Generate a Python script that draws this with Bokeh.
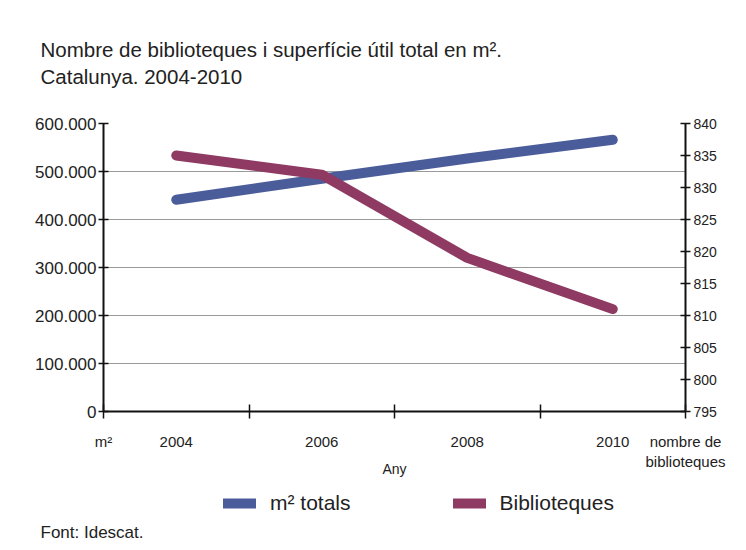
from bokeh.plotting import figure
from bokeh.layouts import column
from bokeh.models import Range1d, LinearAxis, FixedTicker, Legend, LegendItem, Title
from bokeh.embed import file_html
from bokeh.resources import INLINE

years = ["2004", "2006", "2008", "2010"]
m2_totals = [441000, 485000, 527000, 566000]
biblioteques = [835, 832, 819, 811]
left_ticks = [0, 100000, 200000, 300000, 400000, 500000, 600000]
left_tick_labels = ["0", "100.000", "200.000", "300.000", "400.000", "500.000", "600.000"]
right_ticks = [795, 800, 805, 810, 815, 820, 825, 830, 835, 840]

title_1 = "Nombre de biblioteques i superfície útil total en m²."
title_2 = "Catalunya. 2004-2010"
left_unit = "m²"
right_unit = "nombre de\nbiblioteques"
x_title = "Any"
series_names = ["m² totals", "Biblioteques"]
source_text = "Font: Idescat."

BLUE = "#4b5c9b"
MAROON = "#8e3a62"
TXT = "#222222"
FONT = "Liberation Sans"

xs = [i + 0.5 for i in range(len(years))]
bounds = list(range(len(years) + 1))

# ---------------- main chart ----------------
p = figure(frame_width=582, frame_height=288, output_backend="svg", toolbar_location=None,
           x_range=Range1d(0, len(years)), y_range=Range1d(0, 600000),
           min_border_left=103, min_border_right=53, min_border_top=123, min_border_bottom=66,
           x_axis_location=None, y_axis_location=None)
p.outline_line_color = None
p.extra_y_ranges = {"right": Range1d(795, 840)}

p.xgrid.visible = False
p.ygrid.ticker = FixedTicker(ticks=left_ticks)
p.ygrid.grid_line_color = "#9a9a9a"
p.ygrid.grid_line_width = 1

ly = LinearAxis(ticker=FixedTicker(ticks=left_ticks),
                major_label_overrides={t: l for t, l in zip(left_ticks, left_tick_labels)})
x_label_map = {x: y for x, y in zip(xs, years)}
x_label_map[bounds[0]] = left_unit
x_label_map[bounds[-1]] = right_unit
bx = LinearAxis(ticker=FixedTicker(ticks=[bounds[0]] + xs + [bounds[-1]], minor_ticks=bounds),
                major_label_overrides=x_label_map, axis_label=x_title)
ry = LinearAxis(y_range_name="right", ticker=FixedTicker(ticks=right_ticks))

for ax in (ly, bx, ry):
    ax.axis_line_color = "#111111"
    ax.axis_line_width = 2
    ax.major_tick_line_color = "#111111"
    ax.major_tick_line_width = 1.5
    ax.major_label_text_font = FONT
    ax.major_label_text_color = TXT
    ax.major_label_text_font_size = "16px"
    ax.minor_tick_line_color = None

ly.major_tick_in = 5
ly.major_tick_out = 5
ly.major_label_standoff = 2
ly.major_label_text_font_size = "17px"
ry.major_tick_in = 5
ry.major_tick_out = 5
ry.major_label_standoff = 3
ry.major_label_text_font_size = "14px"

bx.major_tick_in = 0
bx.major_tick_out = 0
bx.minor_tick_line_color = "#111111"
bx.minor_tick_line_width = 1.5
bx.minor_tick_in = 7
bx.minor_tick_out = 7
bx.major_label_standoff = 14
bx.major_label_text_font_size = "15px"
bx.axis_label_text_font = FONT
bx.axis_label_text_font_style = "normal"
bx.axis_label_text_font_size = "14px"
bx.axis_label_text_color = TXT
bx.axis_label_standoff = -12

p.add_layout(ly, "left")
p.add_layout(ry, "right")
p.add_layout(bx, "below")

p.line(xs, m2_totals, line_color=BLUE, line_width=10, line_cap="round", line_join="round")
p.line(xs, biblioteques, y_range_name="right", line_color=MAROON, line_width=10,
       line_cap="round", line_join="round")

ttl = Title(text=title_1 + "\n" + title_2, align="left", offset=-63, text_font=FONT,
            text_font_size="20.5px", text_font_style="normal", text_color=TXT,
            text_line_height=1.2, standoff=70)
p.add_layout(ttl, "above")

# ---------------- legend + source strip (frame aligned under the chart) ----------------
q = figure(width=738, height=62, output_backend="svg", toolbar_location=None,
           x_range=Range1d(0, 1), y_range=Range1d(0, 1),
           min_border_left=103, min_border_right=53, min_border_top=0, min_border_bottom=0,
           x_axis_location=None, y_axis_location=None)
q.outline_line_color = None
q.xgrid.visible = False
q.ygrid.visible = False

q1 = q.line(xs, m2_totals, line_color=BLUE, line_width=10, line_cap="round", visible=False)
q2 = q.line(xs, biblioteques, line_color=MAROON, line_width=10, line_cap="round", visible=False)

legend = Legend(items=[LegendItem(label=series_names[0], renderers=[q1]),
                       LegendItem(label=series_names[1], renderers=[q2])],
                orientation="horizontal", location=(120, 5))
legend.label_text_font = FONT
legend.label_text_font_size = "21px"
legend.label_text_color = TXT
legend.glyph_width = 33
legend.glyph_height = 20
legend.label_standoff = 14
legend.spacing = 102
legend.padding = 0
legend.margin = 0
legend.border_line_color = None
legend.background_fill_alpha = 0
q.add_layout(legend)

src = Title(text=source_text, align="left", offset=-63, text_font=FONT, text_font_size="17px",
            text_font_style="normal", text_color=TXT, standoff=0)
q.add_layout(src, "below")

layout = column(p, q, spacing=0)
open("out.html", "w").write(file_html(layout, INLINE))
